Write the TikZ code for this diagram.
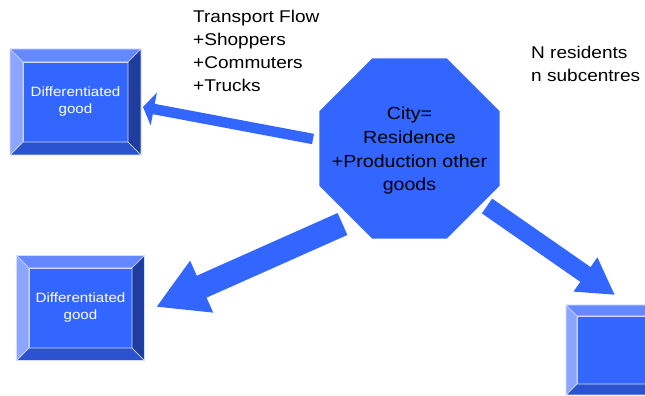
\documentclass[tikz,border=0pt]{standalone}
\usepackage{fontspec}
\setmainfont{Liberation Sans}[FakeStretch=1.12]
\usetikzlibrary{shapes.geometric,arrows.meta}

\definecolor{cityblue}{HTML}{3366FF}
\definecolor{bevtop}{HTML}{6688FF}
\definecolor{bevleft}{HTML}{8CA6FF}
\definecolor{bevright}{HTML}{1F3D9E}
\definecolor{bevbottom}{HTML}{2B53D1}
\definecolor{edgewhite}{HTML}{D6DEFF}

\begin{document}
\begin{tikzpicture}[x=1pt,y=1pt,
    good/.style={rectangle, fill=cityblue, draw=edgewhite, line width=0.6pt,
        inner sep=0pt, outer sep=0pt, text=white, align=center,
        font=\fontsize{13.5}{17}\selectfont},
    bevel/.style={draw=edgewhite, line width=0.6pt},
    city/.style={regular polygon, regular polygon sides=8, minimum size=195pt,
        fill=cityblue, inner sep=0pt},
    citytext/.style={inner sep=0pt, align=center,
        font=\fontsize{17.5}{23.7}\selectfont},
    note/.style={inner sep=0pt, anchor=north west, align=left,
        font=\fontsize{17}{23}\selectfont},
    flow/.style={draw=cityblue, line cap=butt}]

\path[use as bounding box] (0,0) rectangle (645,396);
\clip (0,0) rectangle (645,396);

% Differentiated goods (inner faces)
\node[good, minimum width=105pt, minimum height=80pt] (goodA) at (75.5,294) {Differentiated\\good};
\node[good, minimum width=103pt, minimum height=80pt] (goodB) at (80.5,88) {Differentiated\\good};
\node[good, minimum width=200pt, minimum height=68pt] (goodC) at (677,46) {};

% Bevelled frames
\foreach \n/\b in {goodA/13,goodB/12.5,goodC/11} {
    \filldraw[bevel, fill=bevtop] (\n.north west) -- (\n.north east) -- ++(\b,\b)
        -- ([shift={(-\b,\b)}]\n.north west) -- cycle;
    \filldraw[bevel, fill=bevbottom] (\n.south west) -- (\n.south east) -- ++(\b,-\b)
        -- ([shift={(-\b,-\b)}]\n.south west) -- cycle;
    \filldraw[bevel, fill=bevleft] (\n.north west) -- (\n.south west) -- ++(-\b,-\b)
        -- ([shift={(-\b,\b)}]\n.north west) -- cycle;
    \filldraw[bevel, fill=bevright] (\n.north east) -- (\n.south east) -- ++(\b,-\b)
        -- ([shift={(\b,\b)}]\n.north east) -- cycle;
}

% City
\node[city] (city) at (409.5,247.5) {};
\node[citytext] (citylbl) at (409.5,245.3) {City=\\Residence\\+Production other\\goods};

% Labels
\node[note] (trans) at (193,385.7) {Transport Flow\\+Shoppers\\+Commuters\\+Trucks};
\node[note] (resid) at (531,350.4) {N residents\\n subcentres};

% Flows
\draw[flow, line width=10.5pt, -{Triangle[length=11pt,width=33pt]}]
    ([shift={(-96.5,9.5)}]city.center) -- ([shift={(15,-5)}]goodA.east);
\draw[flow, line width=24pt, -{Triangle[length=50pt,width=53pt]}]
    ([shift={(-67,-75.5)}]city.center) -- ([shift={(24,1)}]goodB.east);
\draw[flow, line width=18pt, -{Triangle[length=36pt,width=39pt]}]
    ([shift={(77.5,-57.5)}]city.center) -- ([shift={(-62,21)}]goodC.north);

\end{tikzpicture}
\end{document}
